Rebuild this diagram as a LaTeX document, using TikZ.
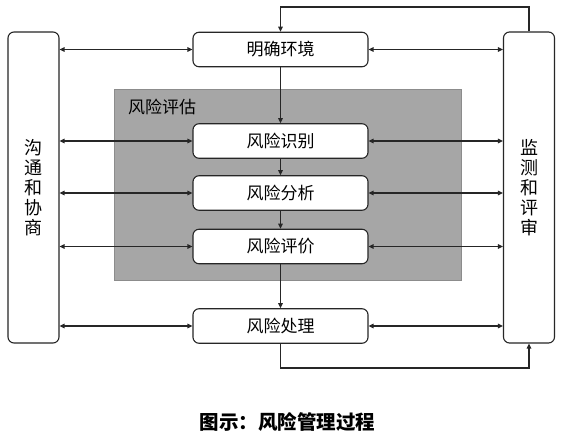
\documentclass[tikz,border=0pt]{standalone}
\usepackage{fontspec}
\setmainfont{Noto Sans CJK SC}
\usetikzlibrary{arrows.meta}
\tikzset{
  box/.style={draw=black!85, line width=1.1pt, rounded corners=6pt, fill=white, inner sep=0pt, font=\fontsize{17}{20}\selectfont},
  stepbox/.style={box, minimum width=175pt, minimum height=34.5pt},
  sidebox/.style={box, minimum width=51pt, minimum height=311pt, align=center, font=\fontsize{18}{20}\selectfont},
  conn/.style={line width=1.3pt, black!85, arrows={-Triangle[length=5pt,width=4.5pt]}},
  biconn/.style={line width=1.3pt, black!85, arrows={Triangle[length=5pt,width=4.5pt]-Triangle[length=5pt,width=4.5pt]}},
}
\begin{document}
\begin{tikzpicture}[x=1pt,y=-1pt]
\useasboundingbox (0,0) rectangle (563,436);
\fill[white] (0,0) rectangle (563,436);
% grey assessment area
\node[draw=black!45, fill=black!35, line width=0.8pt, minimum width=347pt, minimum height=191pt, inner sep=0pt] (G) at (287.5,184.5) {};
\node[font=\fontsize{17}{20}\selectfont, anchor=west, inner sep=0pt] (GL) at (128,107) {风险评估};
% side boxes
\node[sidebox] (L) at (33.5,187.5) {沟\\通\\和\\协\\商};
\node[sidebox] (R) at (529,187.5) {监\\测\\和\\评\\审};
% step boxes
\node[stepbox] (E) at (280.5,49.5) {明确环境};
\node[stepbox] (I) at (280.5,141) {风险识别};
\node[stepbox] (A) at (280.5,193) {风险分析};
\node[stepbox] (V) at (280.5,246.5) {风险评价};
\node[stepbox] (T) at (280.5,326) {风险处理};
% vertical flow
\draw[conn] (E) -- (I);
\draw[conn] (I) -- (A);
\draw[conn] (A) -- (V);
\draw[conn] (V) -- (T);
% feedback loops
\coordinate (tr) at (529,7);
\coordinate (tl) at (280.5,7);
\draw[conn] (R.north) -- (tr) -- (tl) -- (E.north);
\coordinate (bl) at (280.5,368);
\coordinate (br) at (529,368);
\draw[conn] (T.south) -- (bl) -- (br) -- (R.south);
% horizontal links
\foreach \n in {E,I,A,V,T}{
  \draw[biconn] (L.east |- \n.west) -- (\n.west);
  \draw[biconn] (\n.east) -- (R.west |- \n.east);
}
% caption
\node[font=\fontsize{19.5}{22}\selectfont\bfseries, inner sep=0pt] (C) at (287.5,422) {图示：风险管理过程};
\end{tikzpicture}
\end{document}
